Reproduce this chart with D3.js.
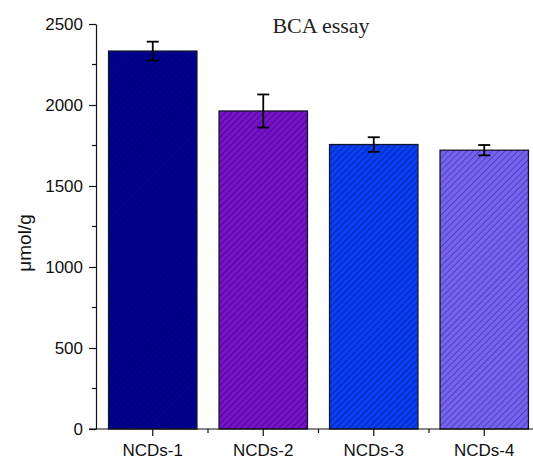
<!DOCTYPE html>
<html>
<head>
<meta charset="utf-8">
<script src="https://cdn.jsdelivr.net/npm/d3@7"></script>
<style>
  body { margin: 0; background: #fff; }
  svg text { font-family: "Liberation Sans", Arial, sans-serif; }
</style>
</head>
<body>
<div id="chart"></div>
<script>
// data
const categories = ["NCDs-1", "NCDs-2", "NCDs-3", "NCDs-4"];
const values = [2333, 1963, 1756, 1721];
const errors = [58, 102, 45, 32];
const yTicks = [0, 500, 1000, 1500, 2000, 2500];
const fills = ["#000095", "#7612c8", "#0a3ef2", "#7562f0"];
const hatch = ["#000055", "#4a0888", "#0624a0", "#4a3aa8"];

const w = 533, h = 459;
const mLeft = 96, mTop = 24, mBottom = 429;

const svg = d3.select("#chart").append("svg")
  .attr("width", w).attr("height", h);

const defs = svg.append("defs");
fills.forEach((c, i) => {
  const p = defs.append("pattern")
    .attr("id", "hatch" + i)
    .attr("patternUnits", "userSpaceOnUse")
    .attr("width", 4.5).attr("height", 4.5)
    .attr("patternTransform", "rotate(-45)");
  p.append("rect").attr("width", 4.5).attr("height", 4.5).attr("fill", c);
  p.append("line").attr("x1", 0).attr("y1", 0).attr("x2", 4.5).attr("y2", 0)
    .attr("stroke", hatch[i]).attr("stroke-width", 1.6);
});

const x = d3.scaleBand().domain(categories).range([mLeft + 1.5, mLeft + 443.5])
  .paddingInner(0.2).paddingOuter(0.1);
const y = d3.scaleLinear().domain([0, 2500]).range([mBottom, mTop]);

// bars
svg.selectAll(".bar").data(values).enter().append("rect")
  .attr("class", "bar")
  .attr("x", (d, i) => x(categories[i]))
  .attr("y", d => y(d))
  .attr("width", x.bandwidth())
  .attr("height", d => y(0) - y(d))
  .attr("fill", (d, i) => `url(#hatch${i})`)
  .attr("stroke", "#141428")
  .attr("stroke-width", 1.3);

// error bars
const eb = svg.selectAll(".err").data(values).enter().append("g")
  .attr("class", "err")
  .attr("stroke", "#000").attr("stroke-width", 1.8);
eb.append("line")
  .attr("x1", (d, i) => x(categories[i]) + x.bandwidth() / 2)
  .attr("x2", (d, i) => x(categories[i]) + x.bandwidth() / 2)
  .attr("y1", (d, i) => y(d + errors[i]))
  .attr("y2", (d, i) => y(d - errors[i]));
[1, -1].forEach(s => {
  eb.append("line")
    .attr("x1", (d, i) => x(categories[i]) + x.bandwidth() / 2 - 6)
    .attr("x2", (d, i) => x(categories[i]) + x.bandwidth() / 2 + 6)
    .attr("y1", (d, i) => y(d + s * errors[i]))
    .attr("y2", (d, i) => y(d + s * errors[i]));
});

// y axis
const yAxis = svg.append("g").attr("transform", `translate(${mLeft},0)`)
  .call(d3.axisLeft(y).tickValues(yTicks).tickFormat(d3.format("d"))
    .tickSize(7).tickPadding(6).tickSizeOuter(0));
yAxis.selectAll(".tick text").attr("font-size", 17).attr("fill", "#111");
yAxis.selectAll("line, path").attr("stroke", "#111").attr("stroke-width", 1.2);
yAxis.selectAll(".minor").data(d3.range(250, 2500, 500)).enter().append("line")
  .attr("x1", 0).attr("x2", -4)
  .attr("y1", d => y(d)).attr("y2", d => y(d))
  .attr("stroke", "#111").attr("stroke-width", 1.2);

// x axis
svg.append("line").attr("x1", mLeft - 7).attr("x2", w).attr("y1", mBottom).attr("y2", mBottom)
  .attr("stroke", "#111").attr("stroke-width", 1.2);
const xAxis = svg.append("g").attr("transform", `translate(0,${mBottom})`)
  .call(d3.axisBottom(x).tickSize(7).tickPadding(8).tickSizeOuter(0));
xAxis.select(".domain").remove();
xAxis.selectAll(".tick text").attr("font-size", 17).attr("fill", "#111");
xAxis.selectAll(".tick line").attr("stroke", "#111").attr("stroke-width", 1.2);
const step = x.step();
xAxis.selectAll(".minor").data(categories.slice(1)).enter().append("line")
  .attr("x1", d => x(d) - x.paddingInner() * step / 2)
  .attr("x2", d => x(d) - x.paddingInner() * step / 2)
  .attr("y1", 0).attr("y2", 4)
  .attr("stroke", "#111").attr("stroke-width", 1.2);

// y label
svg.append("text")
  .attr("transform", `translate(31,243) rotate(-90)`)
  .attr("text-anchor", "middle")
  .attr("font-size", 19).attr("fill", "#111")
  .text("μmol/g");

// title
svg.append("text")
  .attr("x", 321).attr("y", 33)
  .attr("text-anchor", "middle")
  .style("font-family", "'Liberation Serif', 'Times New Roman', serif")
  .attr("font-size", 22).attr("fill", "#222")
  .text("BCA essay");
</script>
</body>
</html>
